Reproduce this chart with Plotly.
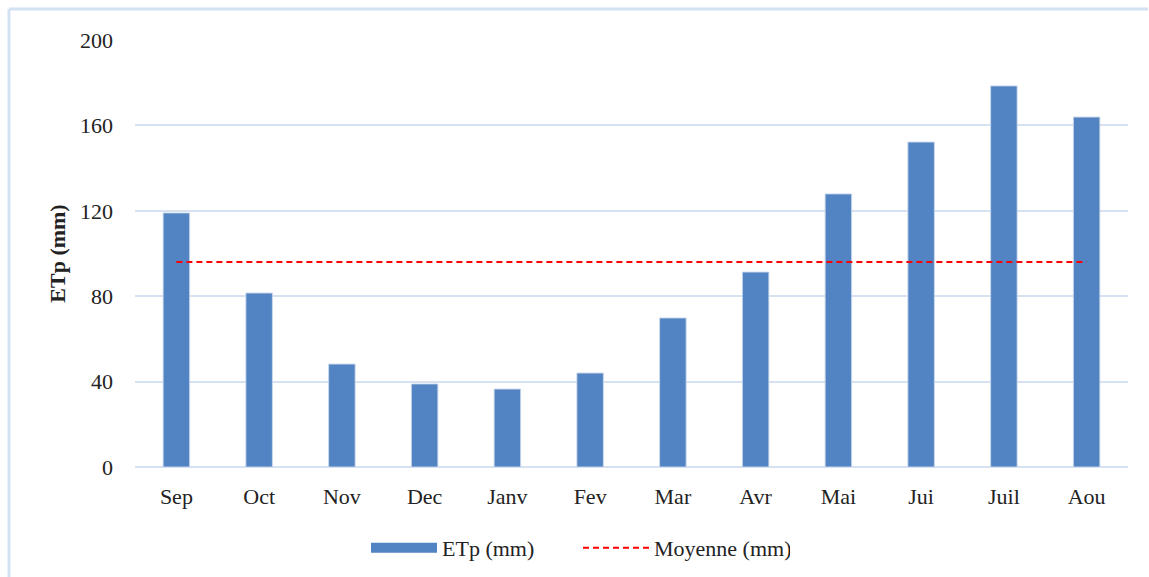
import plotly.graph_objects as go

# Monthly potential evapotranspiration (mm), hydrological year Sep -> Aou
months = ["Sep", "Oct", "Nov", "Dec", "Janv", "Fev", "Mar", "Avr", "Mai", "Jui", "Juil", "Aou"]
etp_mm = [119.0, 81.5, 48.2, 38.9, 36.5, 44.0, 69.8, 91.3, 127.9, 152.2, 178.5, 163.9]
y_ticks = [0, 40, 80, 120, 160, 200]

mean_etp = sum(etp_mm) / len(etp_mm)
mean_series = [mean_etp] * len(months)

W, H = 1149, 577
L, R, T, B = 135, 21, 40, 110
pw, ph = W - L - R, H - T - B

def px_to_paper_x(px):
    return (px - L) / pw

def px_to_paper_y(py):
    return (H - B - py) / ph

serif = "Liberation Serif, Times New Roman, serif"
grid_col = "#d6e2f2"
bar_col = "#5283c2"
fs = 22

fig = go.Figure()
fig.add_trace(go.Bar(
    x=months, y=etp_mm, name="ETp (mm)", width=0.32, showlegend=False,
    marker=dict(color=bar_col, line=dict(color="rgba(200,215,235,0.9)", width=1)),
))
# legend key for the bars, drawn as a wide block
fig.add_trace(go.Scatter(
    x=[None], y=[None], name="ETp (mm)", mode="lines",
    line=dict(color=bar_col, width=10),
))
fig.add_trace(go.Scatter(
    x=months, y=mean_series, name="Moyenne (mm)", mode="lines",
    line=dict(color="#ff0000", width=2, dash="6px,4px"),
))

# light blue frame along the top and left edges of the figure
fig.add_shape(type="line", xref="paper", yref="paper",
              x0=px_to_paper_x(9), x1=px_to_paper_x(1148),
              y0=px_to_paper_y(9), y1=px_to_paper_y(9),
              line=dict(color="#d4e1f2", width=3))
fig.add_shape(type="line", xref="paper", yref="paper",
              x0=px_to_paper_x(9), x1=px_to_paper_x(9),
              y0=px_to_paper_y(9), y1=px_to_paper_y(577),
              line=dict(color="#d4e1f2", width=3))

fig.update_layout(
    width=W, height=H,
    margin=dict(l=L, r=R, t=T, b=B, autoexpand=False),
    paper_bgcolor="white", plot_bgcolor="white",
    font=dict(family=serif, size=fs, color="#222222"),
    showlegend=True,
    legend=dict(orientation="h", x=px_to_paper_x(366), xanchor="left",
                y=px_to_paper_y(548), yanchor="middle",
                font=dict(family=serif, size=fs), itemwidth=66,
                entrywidth=131, entrywidthmode="pixels",
                traceorder="normal"),
    xaxis=dict(showgrid=False, showline=False, ticks="",
               tickfont=dict(family=serif, size=fs), ticklabelstandoff=14),
    yaxis=dict(range=[0, 200], tickvals=y_ticks, showgrid=True, gridcolor=grid_col,
               gridwidth=2, zeroline=True, zerolinecolor=grid_col, zerolinewidth=2,
               showline=False, ticks="", ticklabelstandoff=21,
               tickfont=dict(family=serif, size=fs),
               title=dict(text="<b>ETp (mm)</b>", font=dict(family=serif, size=fs), standoff=8)),
)

fig.write_html("out.html")
